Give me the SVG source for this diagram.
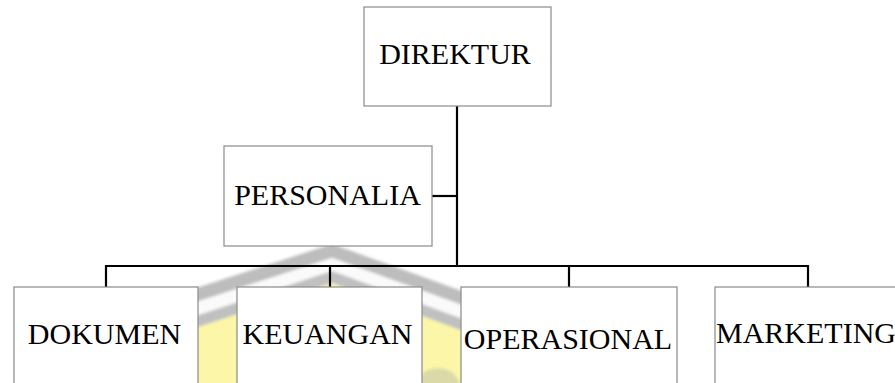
<svg xmlns="http://www.w3.org/2000/svg" width="895" height="383" viewBox="0 0 895 383">
<defs>
<filter id="soft" x="-10%" y="-10%" width="120%" height="120%"><feGaussianBlur stdDeviation="1.6"/></filter>
</defs>
<style>
.box{fill:#ffffff;stroke:#8a8a8a;stroke-width:1.2}
.lbl{font-family:"Liberation Serif","Times New Roman",serif;font-size:30px;fill:#000;text-anchor:middle}
.conn{stroke:#000;stroke-width:2.2;fill:none}
</style>
<rect width="895" height="383" fill="#ffffff"/>
<g id="watermark" filter="url(#soft)">
<polygon points="150,303 332,244 520,312 520,326 332,258 150,317" fill="#bdbdbd"/>
<polygon points="150,317 332,258 520,326 520,340 332,271 150,331" fill="#fafafa"/>
<polygon points="150,331 332,271 520,340 520,352 332,283 150,343" fill="#c0c0c0"/>
<polygon points="150,343 332,283 520,352 520,400 150,400" fill="#fbf6a8"/>
<ellipse cx="438" cy="388" rx="22" ry="20" fill="#dcd9a8"/>
</g>
<g id="connectors">
<path class="conn" d="M457,106 V266"/>
<path class="conn" d="M432,196 H457"/>
<path class="conn" d="M106,287 V266 H808 V287"/>
<path class="conn" d="M330,266 V287"/>
<path class="conn" d="M569,266 V287"/>
</g>
<g id="direktur">
<rect class="box" x="364" y="7" width="187" height="99"/>
<text class="lbl" x="455" y="64">DIREKTUR</text>
</g>
<g id="personalia">
<rect class="box" x="224" y="146" width="208" height="100"/>
<text class="lbl" x="327.5" y="205">PERSONALIA</text>
</g>
<g id="dokumen">
<rect class="box" x="14" y="287" width="184" height="120"/>
<text class="lbl" x="104.5" y="344">DOKUMEN</text>
</g>
<g id="keuangan">
<rect class="box" x="237" y="287" width="185" height="120"/>
<text class="lbl" x="327.5" y="344">KEUANGAN</text>
</g>
<g id="operasional">
<rect class="box" x="461" y="287" width="216" height="120"/>
<text class="lbl" x="568" y="349">OPERASIONAL</text>
</g>
<g id="marketing">
<rect class="box" x="715" y="287" width="200" height="120"/>
<text class="lbl" x="806" y="343">MARKETING</text>
</g>
</svg>
